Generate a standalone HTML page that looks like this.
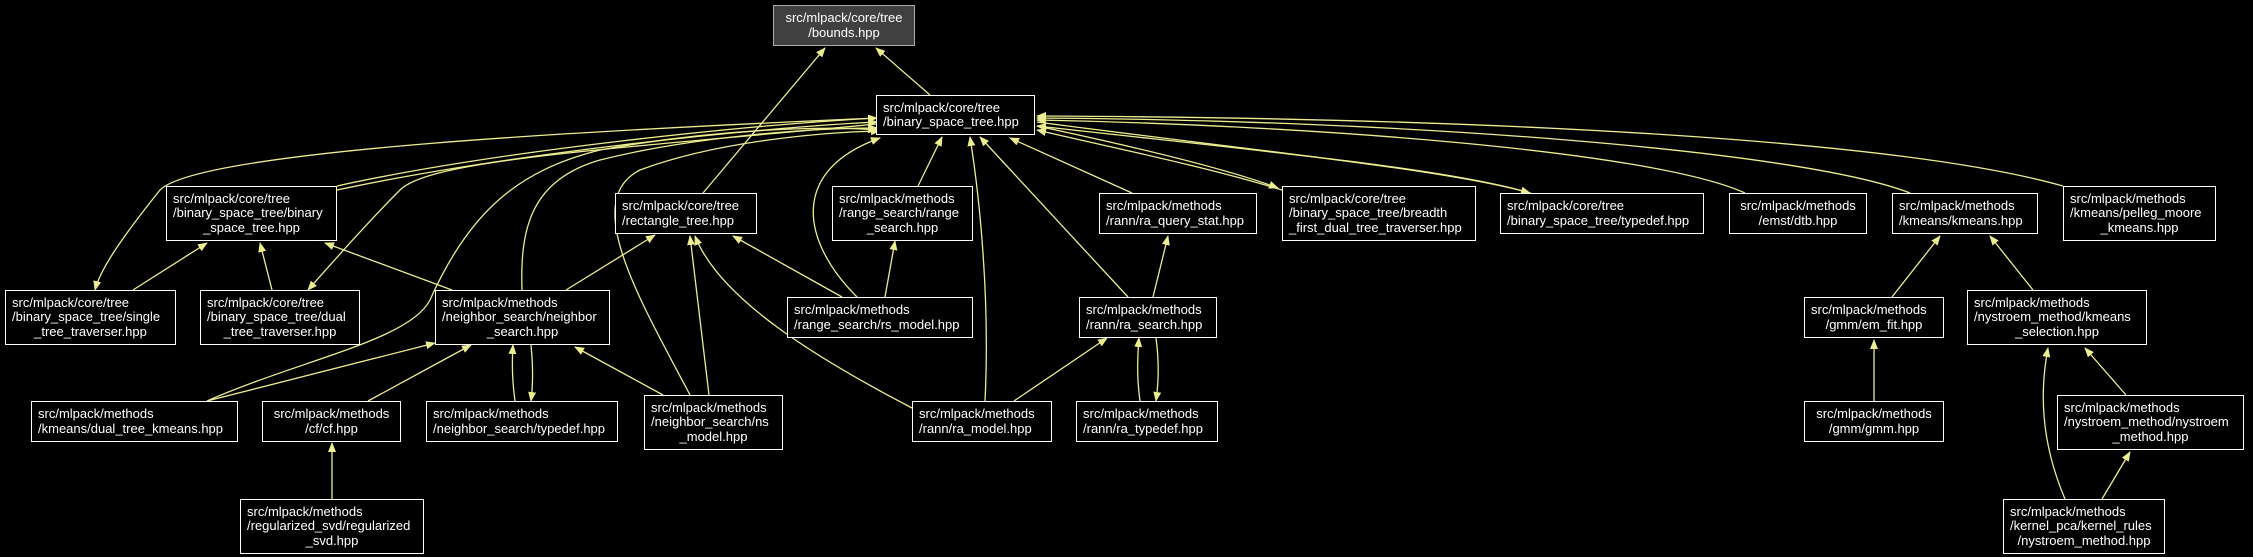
<!DOCTYPE html>
<html><head><meta charset="utf-8"><style>
html,body{margin:0;padding:0;background:#000;}
body{width:2253px;height:557px;position:relative;overflow:hidden;font-family:"Liberation Sans",Arial,sans-serif;}
.n{position:absolute;box-sizing:border-box;border:1px solid #fff;background:#000;color:#fff;font-size:13px;line-height:14.5px;display:flex;flex-direction:column;justify-content:center;padding:0 6px;white-space:nowrap;}
.n span{display:block}
.c{text-align:center}
svg{position:absolute;left:0;top:0}
</style></head><body>
<svg width="2253" height="557" viewBox="0 0 2253 557">
<defs><marker id="a" markerWidth="10" markerHeight="8" refX="9" refY="4" orient="auto" markerUnits="userSpaceOnUse"><path d="M0,0 L10,4 L0,8 z" fill="#ecec90"/></marker></defs>
<g stroke="#ecec90" stroke-width="1.3" fill="none" marker-end="url(#a)">
<path d="M930,95 L876,48"/>
<path d="M703,193 L825,48"/>
<path d="M337,186 C500,150 750,125 877,118"/>
<path d="M337,190 C500,155 750,128 877,122"/>
<path d="M877,118 C600,130 200,150 160,190 C120,240 100,270 95,290"/>
<path d="M133,290 L207,243"/>
<path d="M272,290 L260,243"/>
<path d="M877,124 C600,150 430,160 400,190 C370,220 330,265 308,290"/>
<path d="M452,290 L325,243"/>
<path d="M522,290 C520,230 530,180 600,160 C700,135 820,128 877,128"/>
<path d="M566,290 L655,235"/>
<path d="M207,401 C300,360 410,340 430,300 C470,210 520,170 600,150 C720,128 830,126 877,130"/>
<path d="M207,401 L435,343"/>
<path d="M368,401 L471,345"/>
<path d="M332,499 L332,443"/>
<path d="M515,401 C512,380 512,360 513,345"/>
<path d="M531,345 C533,365 533,385 531,401"/>
<path d="M663,395 L575,347"/>
<path d="M709,395 L690,236"/>
<path d="M690,395 C640,300 580,200 640,170 C720,140 830,132 880,131"/>
<path d="M842,297 L733,236"/>
<path d="M885,297 L895,241"/>
<path d="M857,297 C800,240 790,170 880,138"/>
<path d="M918,186 L942,137"/>
<path d="M912,408 C820,360 720,300 695,236"/>
<path d="M985,401 C990,300 980,200 970,137"/>
<path d="M1014,401 L1107,338"/>
<path d="M1128,297 L980,137"/>
<path d="M1153,297 L1168,236"/>
<path d="M1140,401 C1137,380 1137,360 1139,338"/>
<path d="M1156,338 C1159,360 1159,380 1156,401"/>
<path d="M1132,193 L1010,138"/>
<path d="M1037,126 C1150,150 1230,170 1278,188"/>
<path d="M1282,190 C1200,165 1100,145 1037,130"/>
<path d="M1037,122 C1250,150 1450,170 1530,193"/>
<path d="M1533,194 C1450,168 1250,150 1037,126"/>
<path d="M1745,193 C1650,150 1300,125 1037,120"/>
<path d="M1910,193 C1800,150 1400,120 1037,118"/>
<path d="M2063,186 C1900,140 1500,118 1037,116"/>
<path d="M1892,297 L1940,236"/>
<path d="M2033,290 L1990,236"/>
<path d="M1874,401 L1874,340"/>
<path d="M2126,395 L2085,348"/>
<path d="M2065,499 C2040,440 2040,390 2048,348"/>
<path d="M2102,499 L2130,452"/>
</g>
</svg>
<div class="n c" style="left:773px;top:5px;width:142px;height:41px;background:#404040;border-color:#aaa"><span>src/mlpack/core/tree</span><span>/bounds.hpp</span></div>
<div class="n" style="left:876px;top:95px;width:159px;height:40px"><span>src/mlpack/core/tree</span><span>/binary_space_tree.hpp</span></div>
<div class="n" style="left:166px;top:186px;width:171px;height:55px"><span>src/mlpack/core/tree</span><span>/binary_space_tree/binary</span><span class="c">_space_tree.hpp</span></div>
<div class="n" style="left:615px;top:193px;width:142px;height:41px"><span>src/mlpack/core/tree</span><span>/rectangle_tree.hpp</span></div>
<div class="n" style="left:832px;top:186px;width:141px;height:55px"><span>src/mlpack/methods</span><span>/range_search/range</span><span class="c">_search.hpp</span></div>
<div class="n" style="left:1099px;top:193px;width:158px;height:41px"><span>src/mlpack/methods</span><span>/rann/ra_query_stat.hpp</span></div>
<div class="n" style="left:1282px;top:186px;width:194px;height:55px"><span>src/mlpack/core/tree</span><span>/binary_space_tree/breadth</span><span>_first_dual_tree_traverser.hpp</span></div>
<div class="n" style="left:1500px;top:193px;width:204px;height:41px"><span>src/mlpack/core/tree</span><span>/binary_space_tree/typedef.hpp</span></div>
<div class="n c" style="left:1729px;top:193px;width:138px;height:41px"><span>src/mlpack/methods</span><span>/emst/dtb.hpp</span></div>
<div class="n" style="left:1892px;top:193px;width:146px;height:41px"><span>src/mlpack/methods</span><span>/kmeans/kmeans.hpp</span></div>
<div class="n" style="left:2063px;top:186px;width:153px;height:55px"><span>src/mlpack/methods</span><span>/kmeans/pelleg_moore</span><span class="c">_kmeans.hpp</span></div>
<div class="n" style="left:5px;top:290px;width:171px;height:55px"><span>src/mlpack/core/tree</span><span>/binary_space_tree/single</span><span class="c">_tree_traverser.hpp</span></div>
<div class="n" style="left:200px;top:290px;width:160px;height:55px"><span>src/mlpack/core/tree</span><span>/binary_space_tree/dual</span><span class="c">_tree_traverser.hpp</span></div>
<div class="n" style="left:435px;top:290px;width:175px;height:55px"><span>src/mlpack/methods</span><span>/neighbor_search/neighbor</span><span class="c">_search.hpp</span></div>
<div class="n" style="left:787px;top:297px;width:186px;height:41px"><span>src/mlpack/methods</span><span>/range_search/rs_model.hpp</span></div>
<div class="n" style="left:1079px;top:297px;width:138px;height:41px"><span>src/mlpack/methods</span><span>/rann/ra_search.hpp</span></div>
<div class="n" style="left:1804px;top:297px;width:140px;height:41px"><span>src/mlpack/methods</span><span class="c">/gmm/em_fit.hpp</span></div>
<div class="n" style="left:1967px;top:290px;width:180px;height:55px"><span>src/mlpack/methods</span><span>/nystroem_method/kmeans</span><span class="c">_selection.hpp</span></div>
<div class="n" style="left:31px;top:401px;width:207px;height:41px"><span>src/mlpack/methods</span><span>/kmeans/dual_tree_kmeans.hpp</span></div>
<div class="n c" style="left:262px;top:401px;width:139px;height:41px"><span>src/mlpack/methods</span><span>/cf/cf.hpp</span></div>
<div class="n" style="left:426px;top:401px;width:192px;height:41px"><span>src/mlpack/methods</span><span>/neighbor_search/typedef.hpp</span></div>
<div class="n" style="left:644px;top:395px;width:139px;height:55px"><span>src/mlpack/methods</span><span>/neighbor_search/ns</span><span class="c">_model.hpp</span></div>
<div class="n" style="left:912px;top:401px;width:140px;height:41px"><span>src/mlpack/methods</span><span>/rann/ra_model.hpp</span></div>
<div class="n" style="left:1076px;top:401px;width:142px;height:41px"><span>src/mlpack/methods</span><span>/rann/ra_typedef.hpp</span></div>
<div class="n c" style="left:1804px;top:401px;width:140px;height:41px"><span>src/mlpack/methods</span><span>/gmm/gmm.hpp</span></div>
<div class="n" style="left:2057px;top:395px;width:187px;height:55px"><span>src/mlpack/methods</span><span>/nystroem_method/nystroem</span><span class="c">_method.hpp</span></div>
<div class="n" style="left:240px;top:499px;width:184px;height:55px"><span>src/mlpack/methods</span><span>/regularized_svd/regularized</span><span class="c">_svd.hpp</span></div>
<div class="n" style="left:2003px;top:499px;width:162px;height:55px"><span>src/mlpack/methods</span><span>/kernel_pca/kernel_rules</span><span class="c">/nystroem_method.hpp</span></div>
</body></html>
